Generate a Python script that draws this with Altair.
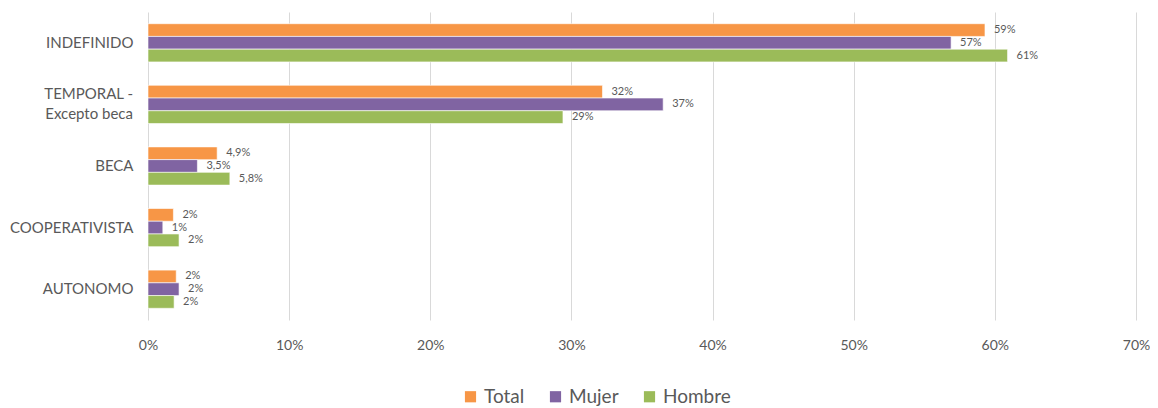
import altair as alt
import pandas as pd

categories = ["INDEFINIDO", "TEMPORAL - Excepto beca", "BECA", "COOPERATIVISTA", "AUTONOMO"]
series = ["Total", "Mujer", "Hombre"]
total = [59.3, 32.2, 4.9, 1.8, 2.0]
mujer = [56.9, 36.5, 3.5, 1.05, 2.2]
hombre = [60.9, 29.4, 5.8, 2.2, 1.85]
total_lbl = ["59%", "32%", "4,9%", "2%", "2%"]
mujer_lbl = ["57%", "37%", "3,5%", "1%", "2%"]
hombre_lbl = ["61%", "29%", "5,8%", "2%", "2%"]
colors = ["#F79646", "#8064A2", "#9BBB59"]
two_line_cat = "TEMPORAL - Excepto beca"
two_line_text = ["TEMPORAL -", "Excepto beca"]

rows = []
for s, vals, lbls in zip(series, [total, mujer, hombre], [total_lbl, mujer_lbl, hombre_lbl]):
    for c, v, l in zip(categories, vals, lbls):
        rows.append({"cat": c, "serie": s, "val": v / 100, "lbl": l})
df = pd.DataFrame(rows)
df_two = pd.DataFrame([{"cat": two_line_cat, "txt": two_line_text}])

FONT = "Lato"
GRAY = "#595959"

y_scale = alt.Scale(paddingInner=0.38, paddingOuter=0.19)
y_enc = alt.Y("cat:N", sort=categories, title=None, scale=y_scale,
              axis=alt.Axis(labelFont=FONT, labelFontSize=15, labelColor=GRAY,
                            labelPadding=15, ticks=False, domain=False, grid=False,
                            labelExpr=f"datum.value == '{two_line_cat}' ? '' : datum.value"))
yoff = alt.YOffset("serie:N", sort=series, scale=alt.Scale(paddingInner=0, paddingOuter=0))

bars = alt.Chart(df).mark_bar(stroke="white", strokeWidth=0.6).encode(
    x=alt.X("val:Q", title=None,
            scale=alt.Scale(domain=[0, 0.7], nice=False),
            axis=alt.Axis(format=".0%", values=[0, 0.1, 0.2, 0.3, 0.4, 0.5, 0.6, 0.7],
                          labelFont=FONT, labelFontSize=14, labelColor=GRAY,
                          labelPadding=18, ticks=False, domain=False, labelFlush=False,
                          gridColor="#D9D9D9", gridWidth=1)),
    y=y_enc,
    yOffset=yoff,
    color=alt.Color("serie:N", sort=series,
                    scale=alt.Scale(domain=series, range=colors),
                    legend=alt.Legend(title=None, orient="none", direction="horizontal",
                                      legendX=313, legendY=375,
                                      symbolType="square", symbolSize=125,
                                      symbolStrokeWidth=0,
                                      labelFont=FONT, labelFontSize=19, labelColor=GRAY,
                                      columnPadding=21, labelOffset=4)),
)

labels = alt.Chart(df).mark_text(align="left", baseline="middle", dx=9,
                                 font=FONT, fontSize=11, color=GRAY).encode(
    x="val:Q",
    y=alt.Y("cat:N", sort=categories),
    yOffset=yoff,
    text="lbl:N",
)

two_line = alt.Chart(df_two).mark_text(align="right", baseline="middle", dy=-10,
                                       lineHeight=20, font=FONT, fontSize=15,
                                       color=GRAY).encode(
    x=alt.value(-15),
    y=alt.Y("cat:N", sort=categories),
    text="txt",
)

chart = (bars + labels + two_line).properties(
    width=988, height=308,
    background="white",
    autosize=alt.AutoSizeParams(type="none"),
    padding={"left": 140, "top": 4, "right": 14, "bottom": 88},
).configure_view(strokeWidth=0, stroke="transparent")

chart.save("out.html", embed_options={"renderer": "svg", "actions": False})
